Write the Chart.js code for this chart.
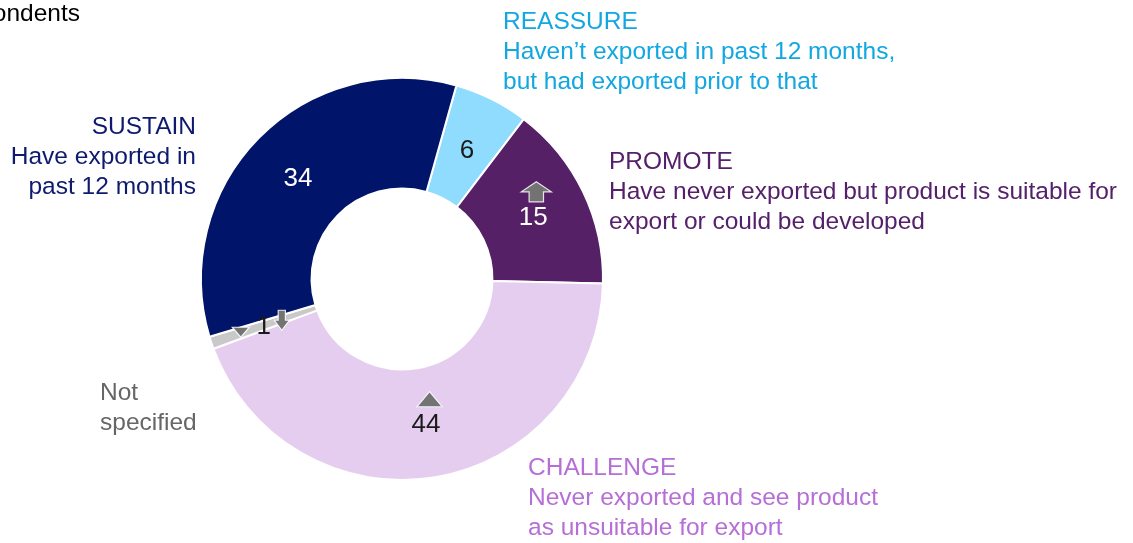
<!DOCTYPE html>
<html>
<head>
<meta charset="utf-8">
<script src="https://cdn.jsdelivr.net/npm/chart.js@4/dist/chart.umd.min.js"></script>
<style>
  html, body { margin: 0; padding: 0; background: #fff; }
  #wrap { width: 1133px; height: 543px; position: relative; }
</style>
</head>
<body>
<div id="wrap"><canvas id="donut"></canvas></div>
<script>
// segments, clockwise from the top
const segments = ['REASSURE', 'PROMOTE', 'CHALLENGE', 'Not specified', 'SUSTAIN'];
const shares = [6, 15, 44, 1, 34];
const sliceColours = ['#8fdcff', '#552066', '#e5cdf0', '#c9c9c9', '#001469'];
const valueColours = ['#1a1a1a', '#ffffff', '#1a1a1a', '#1a1a1a', '#ffffff'];
// change markers: 'up', 'down', 'tri-up', 'tri-down'
const markers = [[], ['up'], ['tri-up'], ['tri-down', 'down'], []];

const captions = [
    { lines: ['REASSURE', 'Haven\u2019t exported in past 12 months,', 'but had exported prior to that'], colour: '#12a7e0', x: 503, y: 22, align: 'left' },
    { lines: ['PROMOTE', 'Have never exported but product is suitable for', 'export or could be developed'], colour: '#55206a', x: 609, y: 162, align: 'left' },
    { lines: ['CHALLENGE', 'Never exported and see product', 'as unsuitable for export'], colour: '#b56fd6', x: 528, y: 468, align: 'left' },
    { lines: ['Not', 'specified'], colour: '#666666', x: 100, y: 393, align: 'left' },
    { lines: ['SUSTAIN', 'Have exported in', 'past 12 months'], colour: '#0d1a6e', x: 196, y: 127, align: 'right' }
];

const FONT = '"Liberation Sans", Arial, sans-serif';

// house-shaped arrow; top/bottom are the y extents, w the head width
function blockArrow(ctx, x, top, bottom, w, up) {
    const h = bottom - top;
    const headH = h * 0.5;
    const stem = w * 0.24;
    ctx.beginPath();
    if (up) {
        ctx.moveTo(x, top);
        ctx.lineTo(x + w / 2, top + headH);
        ctx.lineTo(x + stem, top + headH);
        ctx.lineTo(x + stem, bottom);
        ctx.lineTo(x - stem, bottom);
        ctx.lineTo(x - stem, top + headH);
        ctx.lineTo(x - w / 2, top + headH);
    } else {
        ctx.moveTo(x, bottom);
        ctx.lineTo(x + w / 2, bottom - headH);
        ctx.lineTo(x + stem, bottom - headH);
        ctx.lineTo(x + stem, top);
        ctx.lineTo(x - stem, top);
        ctx.lineTo(x - stem, bottom - headH);
        ctx.lineTo(x - w / 2, bottom - headH);
    }
    ctx.closePath();
    ctx.fill();
    ctx.stroke();
}

function triangle(ctx, x, top, bottom, w, up) {
    ctx.beginPath();
    if (up) {
        ctx.moveTo(x, top);
        ctx.lineTo(x + w / 2, bottom);
        ctx.lineTo(x - w / 2, bottom);
    } else {
        ctx.moveTo(x, bottom);
        ctx.lineTo(x + w / 2, top);
        ctx.lineTo(x - w / 2, top);
    }
    ctx.closePath();
    ctx.fill();
    ctx.stroke();
}

const donutLabels = {
    id: 'donutLabels',
    afterDraw(chart) {
        const ctx = chart.ctx;
        ctx.save();
        ctx.textBaseline = 'middle';

        // base note, partly cut off at the left edge
        ctx.font = '24.5px ' + FONT;
        ctx.fillStyle = '#000';
        ctx.textAlign = 'right';
        ctx.fillText('Base: All respondents', 80, 14);

        const arcs = chart.getDatasetMeta(0).data;
        arcs.forEach((arc, i) => {
            const p = arc.tooltipPosition();
            ctx.fillStyle = '#737373';
            ctx.strokeStyle = 'rgba(255,255,255,0.85)';
            ctx.lineWidth = 1.2;
            markers[i].forEach(m => {
                if (m === 'up') blockArrow(ctx, p.x + 3, p.y - 34, p.y - 14, 30, true);
                if (m === 'tri-up') triangle(ctx, p.x + 3.5, p.y - 31, p.y - 16, 25, true);
                if (m === 'tri-down') triangle(ctx, p.x - 23, p.y + 2, p.y + 12, 17, false);
                if (m === 'down') blockArrow(ctx, p.x + 18, p.y - 15, p.y + 5, 15, false);
            });

            ctx.font = '26px ' + FONT;
            ctx.textAlign = 'center';
            ctx.fillStyle = valueColours[i];
            ctx.fillText(String(shares[i]), p.x, p.y + 2);
        });

        ctx.font = '24.5px ' + FONT;
        captions.forEach(c => {
            ctx.fillStyle = c.colour;
            ctx.textAlign = c.align;
            c.lines.forEach((line, k) => {
                ctx.fillText(line, c.x, c.y + k * 30);
            });
        });
        ctx.restore();
    }
};

new Chart(document.getElementById('donut'), {
    type: 'doughnut',
    plugins: [donutLabels],
    data: {
        labels: segments,
        datasets: [{
            data: shares,
            backgroundColor: sliceColours,
            borderColor: '#ffffff',
            borderWidth: 2,
            hoverBorderWidth: 2
        }]
    },
    options: {
        responsive: true,
        maintainAspectRatio: false,
        animation: false,
        rotation: 15.7,
        cutout: '45%',
        layout: { padding: { top: 77, bottom: 62, left: 0, right: 329 } },
        plugins: {
            legend: { display: false },
            tooltip: { enabled: false }
        }
    }
});
</script>
</body>
</html>
